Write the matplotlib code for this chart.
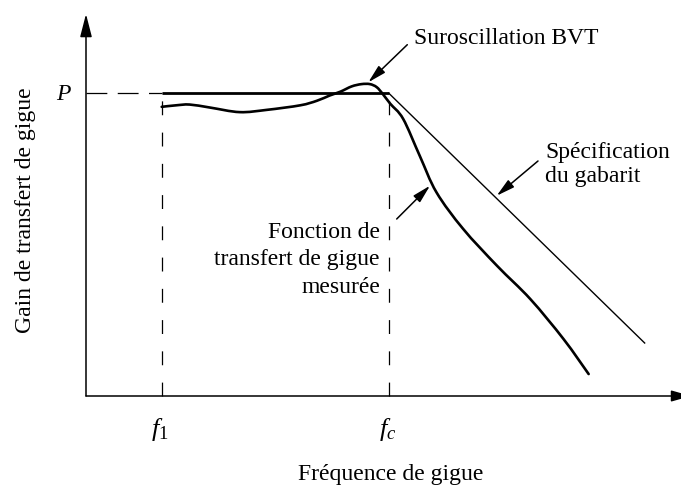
import matplotlib
matplotlib.use("Agg")
import matplotlib.pyplot as plt
from matplotlib.path import Path
from matplotlib.patches import PathPatch

plt.rcParams['font.family'] = ['Liberation Serif', 'DejaVu Serif']
plt.rcParams['mathtext.fontset'] = 'custom'
plt.rcParams['mathtext.rm'] = 'Liberation Serif'
plt.rcParams['mathtext.it'] = 'Liberation Serif:italic'
plt.rcParams['lines.scale_dashes'] = False

# ---- data (schematic units) ----
freq_ticks = [1.0, 4.0]
freq_tick_labels = [r'$f_1$', r'$f_c$']
gain_level = 4.0
gain_label = 'P'

spec_freq = [1.0, 4.0, 7.38]
spec_gain = [4.0, 4.0, 0.70]

meas_freq = [1.00, 1.19, 1.37, 1.64, 2.03, 2.39, 2.83, 3.05, 3.22, 3.36, 3.51,
             3.64, 3.75, 3.84, 3.92, 4.02, 4.19, 4.41, 4.63,
             4.98, 5.43, 5.87, 6.31, 6.64]
meas_gain = [3.82, 3.84, 3.85, 3.81, 3.75, 3.78, 3.84, 3.90, 3.97, 4.02, 4.09,
             4.12, 4.12, 4.08, 3.99, 3.86, 3.66, 3.17, 2.69,
             2.21, 1.72, 1.28, 0.75, 0.29]

x_label = 'Fréquence de gigue'
y_label = 'Gain de transfert de gigue'
note_overshoot = 'Suroscillation BVT'
note_spec = ['Spécification', 'du gabarit']
note_meas = ['Fonction de', 'transfert de gigue', 'mesurée']

# ---- layout helpers (pixel -> data) ----
W, H = 681, 489
U = 75.7
OX, OY = 86, 397


def p2d(x, y):
    return ((x - OX) / U, (OY - y) / U)


def smooth_path(xs, ys):
    """Bezier path (Catmull-Rom control points) through the given points."""
    pts = list(zip(xs, ys))
    n = len(pts)
    verts = [pts[0]]
    codes = [Path.MOVETO]
    for i in range(n - 1):
        p0 = pts[i - 1] if i > 0 else pts[i]
        p1 = pts[i]
        p2 = pts[i + 1]
        p3 = pts[i + 2] if i + 2 < n else pts[i + 1]
        c1 = (p1[0] + (p2[0] - p0[0]) / 6, p1[1] + (p2[1] - p0[1]) / 6)
        c2 = (p2[0] - (p3[0] - p1[0]) / 6, p2[1] - (p3[1] - p1[1]) / 6)
        verts += [c1, c2, p2]
        codes += [Path.CURVE4] * 3
    return Path(verts, codes)


fig = plt.figure(figsize=(W / 100, H / 100), dpi=100)
ax = fig.add_axes([0, 0, 1, 1])
ax.set_xlim(-OX / U, (W - OX) / U)
ax.set_ylim(-(H - OY) / U, OY / U)
ax.axis('off')

FS = 17
k = 'black'

# axes with arrows
ax.annotate('', xy=p2d(OX, 15), xytext=(0, 0), annotation_clip=False,
            arrowprops=dict(arrowstyle='-|>,head_length=14,head_width=3.6',
                            mutation_scale=1, color=k, lw=1.1,
                            shrinkA=0, shrinkB=0))
ax.annotate('', xy=p2d(691, OY), xytext=(0, 0), annotation_clip=False,
            arrowprops=dict(arrowstyle='-|>,head_length=12,head_width=3.4',
                            mutation_scale=1, color=k, lw=1.1,
                            shrinkA=0, shrinkB=0))

# dashed guides
ax.plot([0, freq_ticks[0]], [gain_level, gain_level], color=k, lw=0.9,
        linestyle=(0, (15, 7.5)))
for f in freq_ticks:
    ax.plot([f, f], [0, gain_level], color=k, lw=0.9,
            linestyle=(0, (10, 12.5)))

# specification template
ax.plot(spec_freq[:2], spec_gain[:2], color=k, lw=2.0, solid_capstyle='butt')
ax.plot(spec_freq[1:], spec_gain[1:], color=k, lw=1.0)

# measured curve
ax.add_patch(PathPatch(smooth_path(meas_freq, meas_gain), facecolor='none',
                       edgecolor=k, lw=1.9, capstyle='round'))

# tick labels
for f, lab in zip(freq_ticks, freq_tick_labels):
    ax.text(f - 0.02, p2d(0, 436)[1], lab, fontsize=19, ha='center',
            va='baseline')
ax.text(p2d(63, 0)[0], gain_level, gain_label, fontsize=FS, style='italic',
        ha='center', va='center')

# axis labels
ax.text(*p2d(390.5, 480), x_label, fontsize=FS, ha='center', va='baseline')
ax.text(*p2d(26, 210), y_label, fontsize=FS, ha='center', va='center',
        rotation=90)

arrow_kw = dict(arrowstyle='-|>,head_length=11,head_width=2.8',
                mutation_scale=1, color=k, lw=1.1, shrinkA=0, shrinkB=0)

# annotations
ax.text(*p2d(414, 44), note_overshoot, fontsize=FS, ha='left', va='baseline')
ax.annotate('', xy=p2d(368.3, 83.3), xytext=p2d(407.3, 45.7),
            arrowprops=arrow_kw)

for line, yb in zip(note_spec, [158, 182]):
    ax.text(*p2d(545, yb), line, fontsize=FS, ha='left', va='baseline')
ax.annotate('', xy=p2d(496.7, 196.7), xytext=p2d(538, 162),
            arrowprops=arrow_kw)

for line, yb in zip(note_meas, [238, 265.5, 293]):
    ax.text(*p2d(380, yb), line, fontsize=FS, ha='right', va='baseline')
ax.annotate('', xy=p2d(430, 186.7), xytext=p2d(396.7, 220),
            arrowprops=arrow_kw)

fig.savefig('out.png', dpi=100)
